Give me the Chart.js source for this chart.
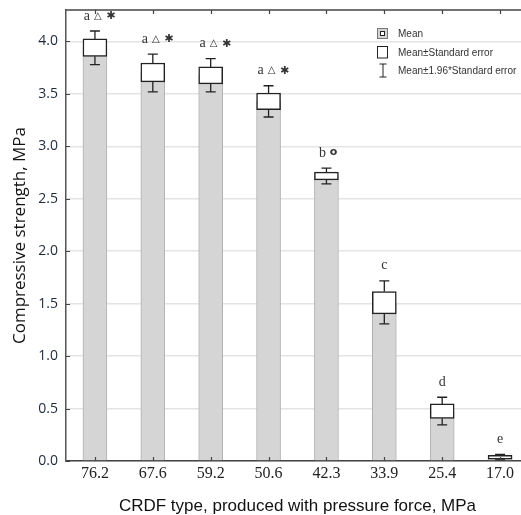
<!DOCTYPE html>
<html>
<head>
<meta charset="utf-8">
<script src="https://cdn.jsdelivr.net/npm/chart.js@4"></script>
<style>
html,body{margin:0;padding:0;overflow:hidden;background:#fff;width:521px;height:515px;}
#wrap{position:absolute;left:0;top:0;width:530px;height:515px;}
</style>
</head>
<body>
<div id="wrap"><canvas id="c" width="530" height="515"></canvas></div>
<script>
const categories = ["76.2", "67.6", "59.2", "50.6", "42.3", "33.9", "25.4", "17.0"];
const means  = [3.94, 3.70, 3.68, 3.43, 2.72, 1.51, 0.475, 0.036];
const seLow  = [3.858, 3.614, 3.595, 3.349, 2.680, 1.403, 0.407, 0.018];
const seHigh = [4.024, 3.795, 3.757, 3.509, 2.755, 1.615, 0.544, 0.055];
const ciLow  = [3.780, 3.520, 3.520, 3.280, 2.643, 1.307, 0.344, 0.010];
const ciHigh = [4.100, 3.880, 3.836, 3.578, 2.793, 1.718, 0.608, 0.062];
const groupLetters = ["a", "a", "a", "a", "b", "c", "d", "e"];
const groupSymbols = [["△", "✱"], ["△", "✱"], ["△", "✱"], ["△", "✱"], ["o"], [], [], []];
const yTicks = [0, 0.5, 1.0, 1.5, 2.0, 2.5, 3.0, 3.5, 4.0];
const legendLabels = ["Mean", "Mean±Standard error", "Mean±1.96*Standard error"];
const xTitle = "CRDF type, produced with pressure force, MPa";
const yTitle = "Compressive strength, MPa";

const boxes = seLow.map((v, i) => [v, seHigh[i]]);

const extras = {
  id: 'extras',
  afterDatasetsDraw(chart) {
    const ctx = chart.ctx;
    const x = chart.scales.x, y = chart.scales.y;
    const ca = chart.chartArea;
    ctx.save();
    // whiskers
    ctx.strokeStyle = '#222';
    ctx.lineWidth = 1.3;
    categories.forEach((c, i) => {
      const px = x.getPixelForValue(i);
      const hw = 5;
      const yTop = y.getPixelForValue(ciHigh[i]);
      const yBot = y.getPixelForValue(ciLow[i]);
      const ySH = y.getPixelForValue(seHigh[i]);
      const ySL = y.getPixelForValue(seLow[i]);
      ctx.beginPath();
      ctx.moveTo(px, yTop); ctx.lineTo(px, ySH);
      ctx.moveTo(px, ySL); ctx.lineTo(px, yBot);
      ctx.moveTo(px - hw, yTop); ctx.lineTo(px + hw, yTop);
      ctx.moveTo(px - hw, yBot); ctx.lineTo(px + hw, yBot);
      ctx.stroke();
    });
    // group annotations
    ctx.fillStyle = '#333';
    ctx.textBaseline = 'middle';
    ctx.textAlign = 'center';
    categories.forEach((c, i) => {
      const px = x.getPixelForValue(i);
      const py = y.getPixelForValue(ciHigh[i]) - 14;
      const syms = groupSymbols[i];
      let lx = px;
      if (syms.length === 2) lx = px - 8;
      else if (syms.length === 1) lx = px - 4;
      ctx.font = '14px "Liberation Serif", serif';
      ctx.fillText(groupLetters[i], lx, py - 1);
      if (syms.length === 2) {
        ctx.font = 'bold 10px "DejaVu Sans", sans-serif';
        ctx.fillText(syms[0], px + 3, py - 1);
        ctx.font = 'bold 11px "DejaVu Sans", sans-serif';
        ctx.fillText(syms[1], px + 16, py - 1);
      } else if (syms.length === 1) {
        ctx.font = 'bold 11px "DejaVu Sans", sans-serif';
        ctx.fillText(syms[0], px + 7, py - 2);
      }
    });
    // frame: top line and inward ticks
    ctx.strokeStyle = '#444';
    ctx.lineWidth = 1.5;
    ctx.beginPath();
    ctx.moveTo(ca.left, ca.top); ctx.lineTo(ca.right + 5, ca.top);
    ctx.stroke();
    ctx.lineWidth = 1.2;
    ctx.beginPath();
    categories.forEach((c, i) => {
      const px = Math.round(x.getPixelForValue(i)) + 0.5;
      ctx.moveTo(px, ca.top); ctx.lineTo(px, ca.top + 4);
      ctx.moveTo(px, ca.bottom); ctx.lineTo(px, ca.bottom - 4);
    });
    yTicks.forEach(v => {
      const py = Math.round(y.getPixelForValue(v)) + 0.5;
      ctx.moveTo(ca.left, py); ctx.lineTo(ca.left + 4, py);
    });
    ctx.stroke();
    // legend
    ctx.lineWidth = 1;
    ctx.fillStyle = '#d4d4d4';
    ctx.fillRect(377, 28, 11, 11);
    ctx.strokeStyle = '#777';
    ctx.strokeRect(377.5, 28.5, 10, 10);
    ctx.fillStyle = '#fff';
    ctx.fillRect(380.5, 31.5, 4, 4);
    ctx.strokeStyle = '#222';
    ctx.strokeRect(380.5, 31.5, 4, 4);
    ctx.fillStyle = '#fff';
    ctx.fillRect(377, 46, 11, 12);
    ctx.strokeStyle = '#222';
    ctx.strokeRect(377.5, 46.5, 10, 11.5);
    ctx.beginPath();
    ctx.moveTo(383, 64); ctx.lineTo(383, 77);
    ctx.moveTo(379.5, 64); ctx.lineTo(386.5, 64);
    ctx.moveTo(379.5, 77); ctx.lineTo(386.5, 77);
    ctx.stroke();
    ctx.fillStyle = '#333';
    ctx.font = '10px "Liberation Sans", Arial, sans-serif';
    ctx.textAlign = 'left';
    ctx.fillText(legendLabels[0], 398, 34.5);
    ctx.fillText(legendLabels[1], 398, 53);
    ctx.fillText(legendLabels[2], 398, 71.5);
    ctx.restore();
  }
};

new Chart(document.getElementById('c'), {
  type: 'bar',
  data: {
    labels: categories,
    datasets: [
      {
        label: 'Mean±Standard error',
        data: boxes,
        backgroundColor: '#ffffff',
        borderColor: '#222',
        borderWidth: 1.5,
        barThickness: 24,
        grouped: false,
        order: 0,
        borderSkipped: false
      },
      {
        label: 'Mean',
        data: means,
        backgroundColor: '#d5d5d5',
        borderColor: '#b0b0b0',
        borderWidth: 1,
        barThickness: 24,
        grouped: false,
        order: 1,
        borderSkipped: 'bottom'
      }
    ]
  },
  options: {
    responsive: false,
    animation: false,
    layout: { padding: { top: 10, right: 1, left: 0, bottom: 0 } },
    plugins: { legend: { display: false }, tooltip: { enabled: false } },
    scales: {
      x: {
        grid: { display: false, drawTicks: false },
        border: { display: true, color: '#444', width: 1.5 },
        ticks: {
          color: '#222',
          padding: 3,
          font: { family: '"Liberation Serif", "Times New Roman", serif', size: 16, lineHeight: 1.2 }
        },
        title: {
          display: true, text: xTitle, color: '#111',
          font: { family: '"Liberation Sans", Arial, sans-serif', size: 17, lineHeight: 1 },
          padding: { top: 0, bottom: 0 }
        },
        afterFit(s) { s.height = 54; s.paddingLeft = 0; s.paddingRight = 0; }
      },
      y: {
        min: 0, max: 4.3,
        grid: { color: '#e4e4e4', lineWidth: 1.5, drawTicks: false },
        border: { display: true, color: '#555', width: 1.5 },
        afterBuildTicks(s) { s.ticks = yTicks.map(v => ({ value: v })); },
        ticks: {
          color: '#1e2a3a',
          padding: 8,
          font: { family: '"Open Sans", sans-serif', size: 14 },
          callback: v => Number(v).toFixed(1)
        },
        title: {
          display: true, text: yTitle, color: '#111',
          font: { family: '"Open Sans", sans-serif', size: 17, lineHeight: 1 },
          padding: { top: 12, bottom: 0 }
        },
        afterFit(s) { s.width = 66; s.paddingTop = 0; s.paddingBottom = 0; }
      }
    }
  },
  plugins: [extras]
});
</script>
</body>
</html>
